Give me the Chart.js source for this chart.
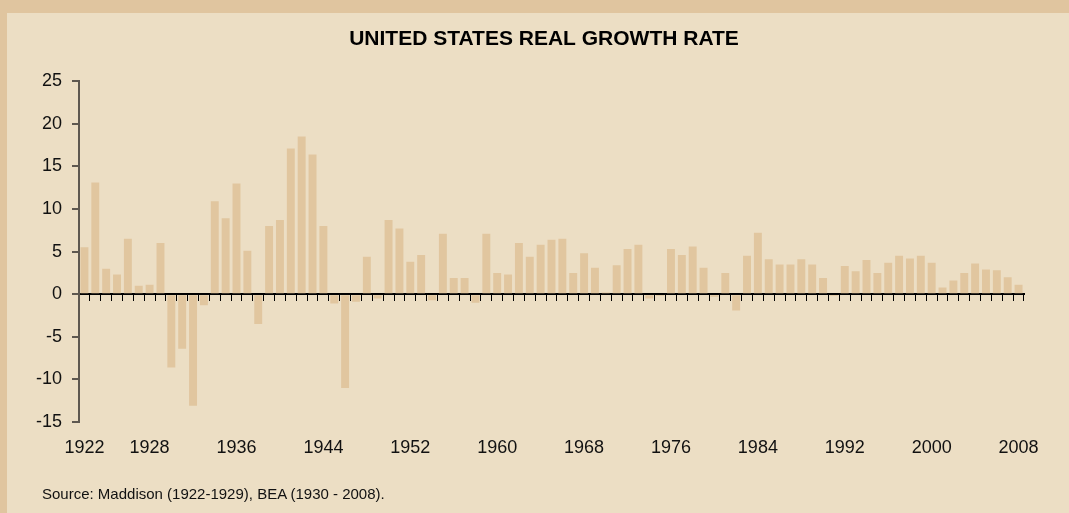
<!DOCTYPE html>
<html>
<head>
<meta charset="utf-8">
<script src="https://cdn.jsdelivr.net/npm/chart.js@4.4.0/dist/chart.umd.min.js"></script>
<style>
  body { margin: 0; background: #e0c59f; width: 1069px; height: 513px; overflow: hidden; }
  #panel { position: absolute; left: 7px; top: 13px; width: 1062px; height: 500px; background: #ecdec4; overflow: hidden; }
  #chart-box { position: absolute; left: 0; top: 0; width: 1074px; height: 500px; }
  #source { position: absolute; left: 35px; top: 472px; font: 15px "Liberation Sans", Arial, sans-serif; line-height: 18px; color: #111; }
</style>
</head>
<body>
<div id="panel">
  <div id="chart-box"><canvas id="growth-chart"></canvas></div>
  <div id="source">Source: Maddison (1922-1929), BEA (1930 - 2008).</div>
</div>
<script>
const years = [];
for (let y = 1922; y <= 2008; y++) years.push(String(y));

// real GDP growth, percent
const growth = [
  5.5, 13.1, 3.0, 2.3, 6.5, 1.0, 1.1, 6.0,            // 1922-1929
  -8.6, -6.4, -13.1, -1.3, 10.9, 8.9, 13.0, 5.1, -3.5, 8.0,   // 1930-1939
  8.7, 17.1, 18.5, 16.4, 8.0, -1.1, -11.0, -0.9, 4.4, -0.5,   // 1940-1949
  8.7, 7.7, 3.8, 4.6, -0.7, 7.1, 1.9, 1.9, -1.0, 7.1,         // 1950-1959
  2.5, 2.3, 6.0, 4.4, 5.8, 6.4, 6.5, 2.5, 4.8, 3.1,           // 1960-1969
  0.2, 3.4, 5.3, 5.8, -0.5, -0.2, 5.3, 4.6, 5.6, 3.1,         // 1970-1979
  -0.3, 2.5, -1.9, 4.5, 7.2, 4.1, 3.5, 3.5, 4.1, 3.5,         // 1980-1989
  1.9, -0.2, 3.3, 2.7, 4.0, 2.5, 3.7, 4.5, 4.2, 4.5,          // 1990-1999
  3.7, 0.8, 1.6, 2.5, 3.6, 2.9, 2.8, 2.0, 1.1                 // 2000-2008
];

const labelYears = ['1922', '1928', '1936', '1944', '1952', '1960', '1968', '1976', '1984', '1992', '2000', '2008'];

const fontFamily = '"Liberation Sans", Arial, sans-serif';

new Chart(document.getElementById('growth-chart'), {
  type: 'bar',
  data: {
    labels: years,
    datasets: [{
      data: growth,
      backgroundColor: '#e1c69f',
      borderWidth: 0,
      barPercentage: 0.73,
      categoryPercentage: 1.0
    }]
  },
  options: {
    responsive: true,
    maintainAspectRatio: false,
    animation: false,
    layout: { padding: { left: 0, right: 0, top: 0, bottom: 51 } },
    plugins: {
      legend: { display: false },
      tooltip: { enabled: false },
      title: {
        display: true,
        text: 'UNITED STATES REAL GROWTH RATE',
        color: '#000',
        font: { family: fontFamily, size: 21, weight: 'bold' },
        padding: { top: 14, bottom: 29 }
      }
    },
    scales: {
      x: {
        position: { y: 0 },
        offset: true,
        grid: { offset: true, drawOnChartArea: false, drawTicks: true, tickLength: 6, color: '#000', lineWidth: 1 },
        border: { display: true, color: '#000', width: 2 },
        ticks: { display: false },
        afterFit: function(scale) { scale.height = 0; }
      },
      x2: {
        type: 'category',
        position: 'bottom',
        offset: true,
        grid: { display: false, drawTicks: false },
        border: { display: false },
        ticks: {
          autoSkip: false,
          maxRotation: 0,
          minRotation: 0,
          padding: 15,
          color: '#111',
          font: { family: fontFamily, size: 18 },
          callback: function(value, index) {
            const yr = years[index];
            return labelYears.includes(yr) ? yr : '';
          }
        },
        afterFit: function(scale) { scale.height = 40; }
      },
      y: {
        min: -15,
        max: 25,
        ticks: { stepSize: 5, padding: 10, color: '#111', font: { family: fontFamily, size: 18 } },
        grid: { drawOnChartArea: false, drawTicks: true, tickLength: 7, color: '#5e5850', lineWidth: 2 },
        border: { display: true, color: '#5e5850', width: 2 },
        afterFit: function(scale) { scale.width = 72; }
      },
      // empty right-hand spacer so the title sits centred like the original
      spacer: {
        type: 'linear',
        position: 'right',
        min: 0,
        max: 1,
        grid: { display: false, drawTicks: false },
        border: { display: false },
        ticks: { display: false },
        afterFit: function(scale) { scale.width = 57; }
      }
    }
  }
});
</script>
</body>
</html>
